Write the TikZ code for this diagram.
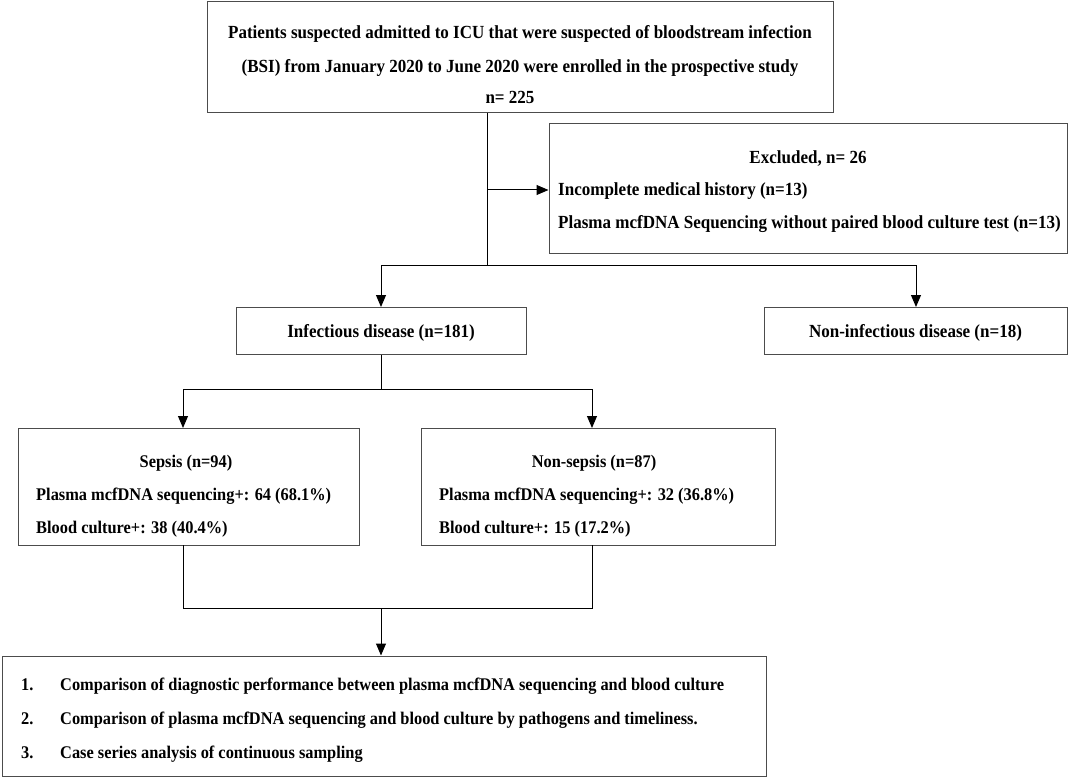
\documentclass[tikz,border=0pt]{standalone}
\usepackage{fontspec}
\setmainfont{Liberation Serif}[FakeStretch=0.92]
\usetikzlibrary{arrows.meta}
\begin{document}
\begin{tikzpicture}[x=1pt,y=-1pt,
  box/.style={draw=black!70,line width=1pt,rectangle,inner sep=0pt},
  txt/.style={font=\fontsize{18.5}{33}\selectfont\bfseries,inner sep=0pt,anchor=base},
  ltxt/.style={txt,anchor=base west},
  stxt/.style={txt,font=\fontsize{17.8}{33}\selectfont\bfseries},
  sltxt/.style={stxt,anchor=base west},
  conn/.style={line width=1pt},
  arr/.style={conn,-{Triangle[length=12pt,width=10pt]}}]
\useasboundingbox (0,0) rectangle (1072,781);
% boxes
\node[box,minimum width=626,minimum height=111] (top) at (520,57.5) {};
\node[box,minimum width=518,minimum height=129] (exc) at (808,188.5) {};
\node[box,minimum width=290,minimum height=47] (inf) at (381,330.5) {};
\node[box,minimum width=303,minimum height=47] (non) at (915.5,330.5) {};
\node[box,minimum width=341,minimum height=117] (sep) at (188.5,486.5) {};
\node[box,minimum width=354,minimum height=117] (nsep) at (598,486.5) {};
\node[box,minimum width=764,minimum height=120] (res) at (384,716) {};
% texts
\node[txt] (t1) at (520,39) {Patients suspected admitted to ICU that were suspected of bloodstream infection};
\node[txt] (t2) at (520,73) {(BSI) from January 2020 to June 2020 were enrolled in the prospective study};
\node[txt] (t3) at (510,104) {n= 225};
\node[txt] (e1) at (808,164) {Excluded, n= 26};
\node[ltxt] (e2) at (558,196) {Incomplete medical history (n=13)};
\node[ltxt] (e3) at (558,229) {Plasma mcfDNA Sequencing without paired blood culture test (n=13)};
\node[txt] (i1) at (381,337) {Infectious disease (n=181)};
\node[txt] (n1) at (915.5,337) {Non-infectious disease (n=18)};
\node[stxt] (s1) at (186,467) {Sepsis (n=94)};
\node[sltxt] (s2) at (36,500) {Plasma mcfDNA sequencing+: 64 (68.1\%)};
\node[sltxt] (s3) at (36,533) {Blood culture+: 38 (40.4\%)};
\node[stxt] (ns1) at (594,467) {Non-sepsis (n=87)};
\node[sltxt] (ns2) at (439,500) {Plasma mcfDNA sequencing+: 32 (36.8\%)};
\node[sltxt] (ns3) at (439,533) {Blood culture+: 15 (17.2\%)};
\node[sltxt] (r1n) at (21,690) {1.};
\node[sltxt] (r1) at (60,690) {Comparison of diagnostic performance between plasma mcfDNA sequencing and blood culture};
\node[sltxt] (r2n) at (21,724) {2.};
\node[sltxt] (r2) at (60,724) {Comparison of plasma mcfDNA sequencing and blood culture by pathogens and timeliness.};
\node[sltxt] (r3n) at (21,758) {3.};
\node[sltxt] (r3) at (60,758) {Case series analysis of continuous sampling};
% connectors
\coordinate (a) at (487,265);
\coordinate (b) at (487,190);
\coordinate (c) at (381,608);
\draw[conn] (487,113) -- (a);
\draw[arr] (b) -- (exc.west |- b);
\draw[conn] (381,265) -- (916,265);
\draw[arr] (381,265) -- (381,307);
\draw[arr] (916,265) -- (916,307);
\draw[conn] (inf.south) -- (381,389);
\draw[conn] (183,389) -- (592,389);
\draw[arr] (183,389) -- (183,428);
\draw[arr] (592,389) -- (592,428);
\draw[conn] (183,545) -- (183,608) -- (592,608) -- (592,545);
\draw[arr] (c) -- (c |- res.north);
\end{tikzpicture}
\end{document}
